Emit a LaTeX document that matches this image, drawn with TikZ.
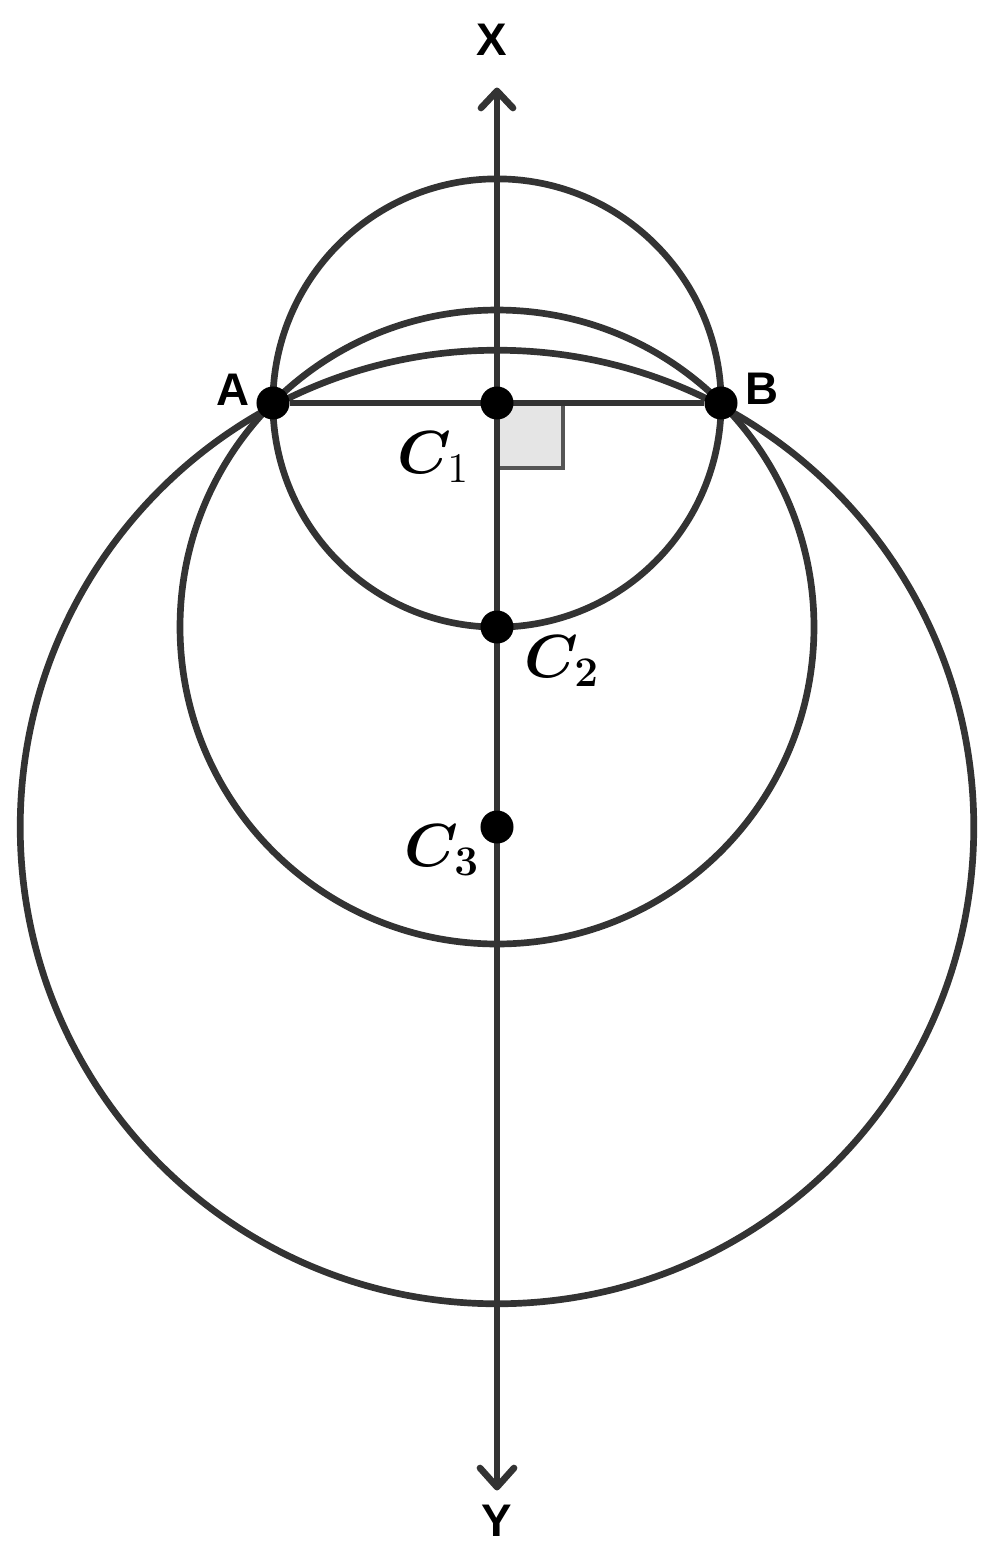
\documentclass[tikz,border=0pt]{standalone}
\usepackage{fontspec}
\usepackage{amsmath,bm}
\newfontfamily\lblfont{Liberation Sans}
\definecolor{ln}{HTML}{333333}
\definecolor{sqfill}{HTML}{E5E5E5}
\definecolor{sqdraw}{HTML}{555555}
\begin{document}
\begin{tikzpicture}[x=0.01cm,y=-0.01cm,
  curve/.style={draw=ln, line width=1.9pt},
  pt/.style={circle, fill=black, inner sep=0pt, minimum size=0.33cm},
  lbl/.style={font=\lblfont\bfseries\fontsize{13}{15}\selectfont, inner sep=0pt},
  clbl/.style={font=\fontsize{16.5}{19}\selectfont, inner sep=0pt, anchor=base west}]
\useasboundingbox (0,0) rectangle (994,1557);
\coordinate (O1) at (497,403);
\coordinate (O2) at (497,627);
\coordinate (O3) at (497,827);
\coordinate (Xt) at (497,91);
\coordinate (Yt) at (497,1487);
% circles
\draw[curve] (O1) circle[radius=2.24cm];
\draw[curve] (O2) circle[radius=3.168cm];
\draw[curve] (O3) circle[radius=4.765cm];
% right angle mark
\draw[draw=sqdraw, fill=sqfill, line width=1.1pt] (O1) rectangle (563,468);
% axis
\draw[curve, line cap=round] (Xt) -- (Yt);
\draw[curve, line cap=round, line join=round] ([shift={(-16,17)}]Xt) -- (Xt) -- ([shift={(16,17)}]Xt);
\draw[curve, line cap=round, line join=round] ([shift={(-17,-19)}]Yt) -- (Yt) -- ([shift={(17,-19)}]Yt);
% points
\node[pt] (A) at (273,403) {};
\node[pt] (B) at (721,403) {};
\draw[curve] (A) -- (B);
\node[pt] (C1) at (O1) {};
\node[pt] (C2) at (O2) {};
\node[pt] (C3) at (O3) {};
% labels
\node[lbl] (lA) at (233,390) {A};
\node[lbl] (lB) at (762,389) {B};
\node[lbl] (lX) at (492,40) {X};
\node[lbl] (lY) at (497,1521) {Y};
\node[clbl] (lC1) at (397,473) {$\bm{C}_1$};
\node[clbl] (lC2) at (524,677) {$\bm{C}_{\bm{2}}$};
\node[clbl] (lC3) at (404,866) {$\bm{C}_{\bm{3}}$};
\end{tikzpicture}
\end{document}
